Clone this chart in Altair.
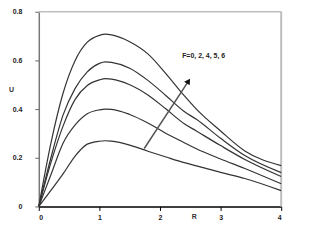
import altair as alt
import pandas as pd

R = [0, 0.2, 0.4, 0.6, 0.8, 1.0, 1.1, 1.2, 1.5, 1.8, 2.1, 2.4, 2.6, 3.0, 3.4, 4.0]
U_F6 = [0, 0.26, 0.465, 0.60, 0.675, 0.703, 0.708, 0.705, 0.677, 0.627, 0.545, 0.455, 0.40, 0.31, 0.228, 0.168]
U_F5 = [0, 0.20, 0.375, 0.485, 0.553, 0.588, 0.594, 0.592, 0.568, 0.518, 0.455, 0.39, 0.358, 0.28, 0.209, 0.139]
U_F4 = [0, 0.18, 0.33, 0.44, 0.497, 0.52, 0.525, 0.523, 0.50, 0.458, 0.40, 0.34, 0.31, 0.25, 0.193, 0.123]
U_F2 = [0, 0.13, 0.26, 0.335, 0.381, 0.397, 0.40, 0.399, 0.378, 0.343, 0.30, 0.262, 0.237, 0.195, 0.156, 0.093]
U_F0 = [0, 0.066, 0.134, 0.207, 0.256, 0.268, 0.270, 0.268, 0.252, 0.227, 0.203, 0.180, 0.167, 0.14, 0.115, 0.065]
F_labels = ["6", "5", "4", "2", "0"]

arrow_R = [1.74, 2.47]
arrow_U = [0.238, 0.515]
label_text = ["F=0, 2, 4, 5, 6"]
label_R = [2.72]
label_U = [0.62]

rows = []
for f, series in zip(F_labels, [U_F6, U_F5, U_F4, U_F2, U_F0]):
    for r, u in zip(R, series):
        rows.append({"R": r, "U": u, "F": f})
df = pd.DataFrame(rows)

W, H = 244, 196
xscale = alt.Scale(domain=[0, 4], nice=False)
yscale = alt.Scale(domain=[0, 0.8], nice=False)

lines = alt.Chart(df).mark_line(interpolate="monotone", color="#333333", strokeWidth=1.2).encode(
    x=alt.X("R:Q", scale=xscale, axis=alt.Axis(
        values=[0, 1, 2, 3, 4], format="d", title="R", titleAngle=0,
        titleX=156, titleY=10, titleAlign="center", titleBaseline="middle",
        titleFontSize=7, titleFontWeight="bold", titleColor="#333333",
        labelFontSize=7, labelFontWeight="bold", labelColor="#222222", labelPadding=3,
        tickSize=4, tickColor="#000000", domainColor="#000000", domainWidth=1.5,
        grid=False, labelFont="Liberation Sans", titleFont="Liberation Sans")),
    y=alt.Y("U:Q", scale=yscale, axis=alt.Axis(
        values=[0, 0.2, 0.4, 0.6, 0.8], labelExpr="datum.value == 0 ? '0' : format(datum.value, '.1f')",
        title="U", titleAngle=0, titleX=-28, titleY=78, titleAlign="center", titleBaseline="middle",
        titleFontSize=7, titleFontWeight="bold", titleColor="#333333",
        labelFontSize=7, labelFontWeight="bold", labelColor="#222222", labelPadding=13,
        tickSize=4, tickColor="#666666", domainColor="#777777", domainWidth=1.5,
        grid=False, labelFont="Liberation Sans", titleFont="Liberation Sans")),
    detail="F:N",
)

adf = pd.DataFrame({"R": [arrow_R[0]], "U": [arrow_U[0]], "R2": [arrow_R[1]], "U2": [arrow_U[1]]})
arrow_line = alt.Chart(adf).mark_rule(color="#555555", strokeWidth=1.5).encode(
    x=alt.X("R:Q", scale=xscale), y=alt.Y("U:Q", scale=yscale), x2="R2:Q", y2="U2:Q")
hdf = pd.DataFrame({"R": [arrow_R[1]], "U": [arrow_U[1]]})
arrow_head = alt.Chart(hdf).mark_point(shape="triangle-up", filled=True, color="#111111",
                                        size=45, angle=33, opacity=1).encode(
    x=alt.X("R:Q", scale=xscale), y=alt.Y("U:Q", scale=yscale))

tdf = pd.DataFrame({"R": label_R, "U": label_U, "t": label_text})
label = alt.Chart(tdf).mark_text(fontSize=7, fontWeight="bold", font="Liberation Sans",
                                 color="#222222").encode(
    x=alt.X("R:Q", scale=xscale), y=alt.Y("U:Q", scale=yscale), text="t:N")

top_border = alt.Chart(pd.DataFrame({"a": [0]})).mark_rule(color="#bdbdbd", strokeWidth=1.5).encode(
    x=alt.value(0), x2=alt.value(W), y=alt.value(0))
right_border = alt.Chart(pd.DataFrame({"a": [0]})).mark_rule(color="#bdbdbd", strokeWidth=2).encode(
    x=alt.value(W), y=alt.value(0), y2=alt.value(H))

chart = alt.layer(top_border, right_border, lines, arrow_line, arrow_head, label).properties(
    width=W, height=H,
    autosize=alt.AutoSizeParams(type="none"),
    padding={"left": 31, "top": 3, "right": 30, "bottom": 30},
).configure_view(stroke=None)

chart.save("out.html", embed_options={"renderer": "svg", "actions": False})
